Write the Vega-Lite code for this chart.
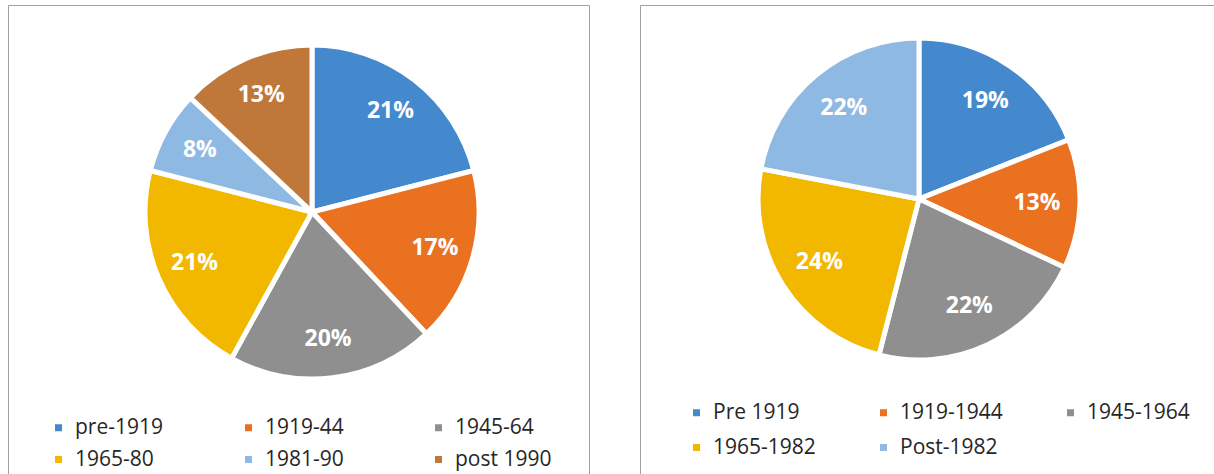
{
  "$schema": "https://vega.github.io/schema/vega-lite/v6.json",
  "padding": {"left": 7, "top": 4, "right": 0, "bottom": 0},
  "spacing": 51,
  "bounds": "flush",
  "background": "white",
  "config": {
    "view": {"stroke": "#a0a0a0", "strokeWidth": 1},
    "legend": {
      "symbolType": "square",
      "symbolSize": 49,
      "symbolStrokeWidth": 0,
      "labelFont": "Open Sans",
      "labelFontSize": 21,
      "labelColor": "#262626",
      "labelOffset": 6,
      "gridAlign": "all",
      "padding": 0
    }
  },
  "resolve": {"scale": {"color": "independent", "theta": "independent"}, "legend": {"color": "independent"}},
  "hconcat": [
    {
      "width": 581,
      "height": 470,
      "view": {"stroke": "#a0a0a0", "strokeWidth": 1},
      "data": {"values": [
        {"period": "pre-1919", "share": 0.21, "o": 1},
        {"period": "1919-44", "share": 0.17, "o": 2},
        {"period": "1945-64", "share": 0.20, "o": 3},
        {"period": "1965-80", "share": 0.21, "o": 4},
        {"period": "1981-90", "share": 0.08, "o": 5},
        {"period": "post 1990", "share": 0.13, "o": 6}
      ]},
      "layer": [
        {
          "mark": {"type": "arc", "outerRadius": 167, "x": 304, "y": 207, "stroke": "white", "strokeWidth": 5},
          "encoding": {
            "theta": {"field": "share", "type": "quantitative", "stack": true},
            "order": {"field": "o", "type": "quantitative"},
            "color": {
              "field": "period", "type": "nominal",
              "scale": {
                "domain": ["pre-1919", "1919-44", "1945-64", "1965-80", "1981-90", "post 1990"],
                "range": ["#4489cd", "#ea7120", "#8f8f8f", "#f2b800", "#8db9e3", "#c0773a"]
              },
              "legend": {"orient": "none", "legendX": 40, "legendY": 412, "columns": 3, "direction": "horizontal", "columnPadding": 66, "rowPadding": 10, "title": null}
            }
          }
        },
        {
          "mark": {"type": "text", "radius": 128, "x": 304, "y": 207, "fill": "white", "font": "Open Sans", "fontWeight": "bold", "fontSize": 23},
          "encoding": {
            "theta": {"field": "share", "type": "quantitative", "stack": true},
            "order": {"field": "o", "type": "quantitative"},
            "text": {"field": "share", "type": "quantitative", "format": ".0%"}
          }
        }
      ]
    },
    {
      "width": 575,
      "height": 470,
      "view": {"stroke": "#a0a0a0", "strokeWidth": 1},
      "data": {"values": [
        {"period": "Pre 1919", "share": 0.19, "o": 1},
        {"period": "1919-1944", "share": 0.13, "o": 2},
        {"period": "1945-1964", "share": 0.22, "o": 3},
        {"period": "1965-1982", "share": 0.24, "o": 4},
        {"period": "Post-1982", "share": 0.22, "o": 5}
      ]},
      "layer": [
        {
          "mark": {"type": "arc", "outerRadius": 161, "x": 279, "y": 194, "stroke": "white", "strokeWidth": 5},
          "encoding": {
            "theta": {"field": "share", "type": "quantitative", "stack": true},
            "order": {"field": "o", "type": "quantitative"},
            "color": {
              "field": "period", "type": "nominal",
              "scale": {
                "domain": ["Pre 1919", "1919-1944", "1945-1964", "1965-1982", "Post-1982"],
                "range": ["#4489cd", "#ea7120", "#8f8f8f", "#f2b800", "#8db9e3"]
              },
              "legend": {"orient": "none", "legendX": 46, "legendY": 397, "columns": 3, "direction": "horizontal", "columnPadding": 57, "rowPadding": 13, "title": null}
            }
          }
        },
        {
          "mark": {"type": "text", "radius": 118, "x": 279, "y": 194, "fill": "white", "font": "Open Sans", "fontWeight": "bold", "fontSize": 23},
          "encoding": {
            "theta": {"field": "share", "type": "quantitative", "stack": true},
            "order": {"field": "o", "type": "quantitative"},
            "text": {"field": "share", "type": "quantitative", "format": ".0%"}
          }
        }
      ]
    }
  ]
}
